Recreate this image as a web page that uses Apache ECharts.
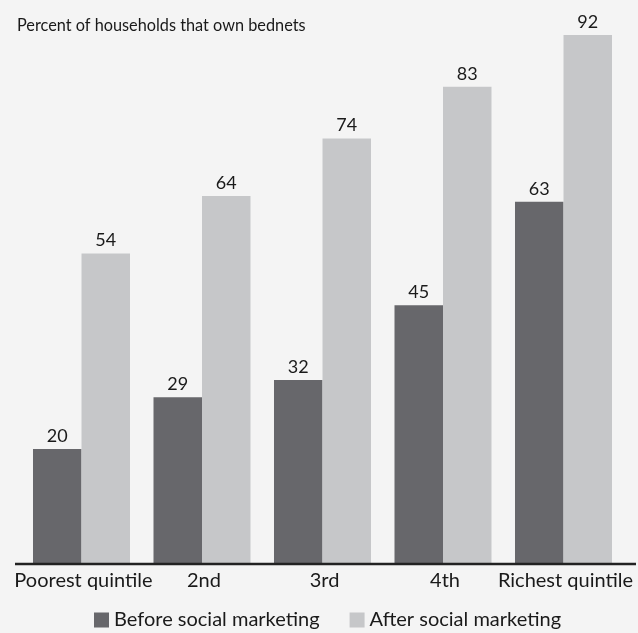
<!DOCTYPE html>
<html>
<head>
<meta charset="utf-8">
<script src="https://cdn.jsdelivr.net/npm/echarts@6/dist/echarts.min.js"></script>
<style>
  html, body { margin: 0; padding: 0; background: #f4f4f4; }
  #chart { width: 638px; height: 633px; }
</style>
</head>
<body>
<div id="chart"></div>
<script>
// Bednet ownership by wealth quintile, before and after social marketing
const categories = ['Poorest quintile', '2nd', '3rd', '4th', 'Richest quintile'];
const beforeValues = [20, 29, 32, 45, 63];
const afterValues = [54, 64, 74, 83, 92];
const seriesNames = ['Before social marketing', 'After social marketing'];

const FONT = 'Lato, "Open Sans", sans-serif';
const chart = echarts.init(document.getElementById('chart'));

const labelStyle = {
  show: true,
  position: 'top',
  distance: 4,
  color: '#1a1a1a',
  fontSize: 18,
  fontFamily: FONT
};

chart.setOption({
  backgroundColor: '#f4f4f4',
  animation: false,
  title: {
    text: 'Percent of households that own bednets',
    left: 12,
    top: 13,
    textStyle: { color: '#1a1a1a', fontSize: 16.3, fontWeight: 'normal', fontFamily: FONT }
  },
  legend: {
    top: 605,
    left: 89,
    itemWidth: 15,
    itemHeight: 15,
    itemGap: 30,
    icon: 'rect',
    textStyle: { color: '#1a1a1a', fontSize: 20, fontFamily: FONT },
    data: seriesNames
  },
  grid: { left: 21.25, right: 14.25, top: 35, bottom: 69, containLabel: false },
  xAxis: {
    type: 'category',
    data: categories,
    axisLine: { show: false },
    axisTick: { show: false },
    axisLabel: { color: '#1a1a1a', fontSize: 20, fontFamily: FONT, margin: 7, interval: 0, padding: [0, 0, 0, 4] }
  },
  yAxis: {
    type: 'value',
    min: 0,
    max: 92,
    show: false,
    splitLine: { show: false }
  },
  series: [
    {
      name: seriesNames[0],
      type: 'bar',
      data: beforeValues,
      barGap: '0%',
      barCategoryGap: '19.5%',
      itemStyle: { color: '#67676b' },
      label: labelStyle
    },
    {
      name: seriesNames[1],
      type: 'bar',
      data: afterValues,
      barGap: '0%',
      barCategoryGap: '19.5%',
      itemStyle: { color: '#c6c7c9' },
      label: labelStyle
    }
  ]
});

// Baseline rule under the bars, running slightly past the plot on both sides
const baseY = chart.convertToPixel({ yAxisIndex: 0 }, 0);
chart.setOption({
  graphic: [{
    type: 'line',
    shape: { x1: 15, y1: baseY, x2: 636, y2: baseY },
    style: { stroke: '#222222', lineWidth: 2.5 },
    z: 10
  }]
});
</script>
</body>
</html>
